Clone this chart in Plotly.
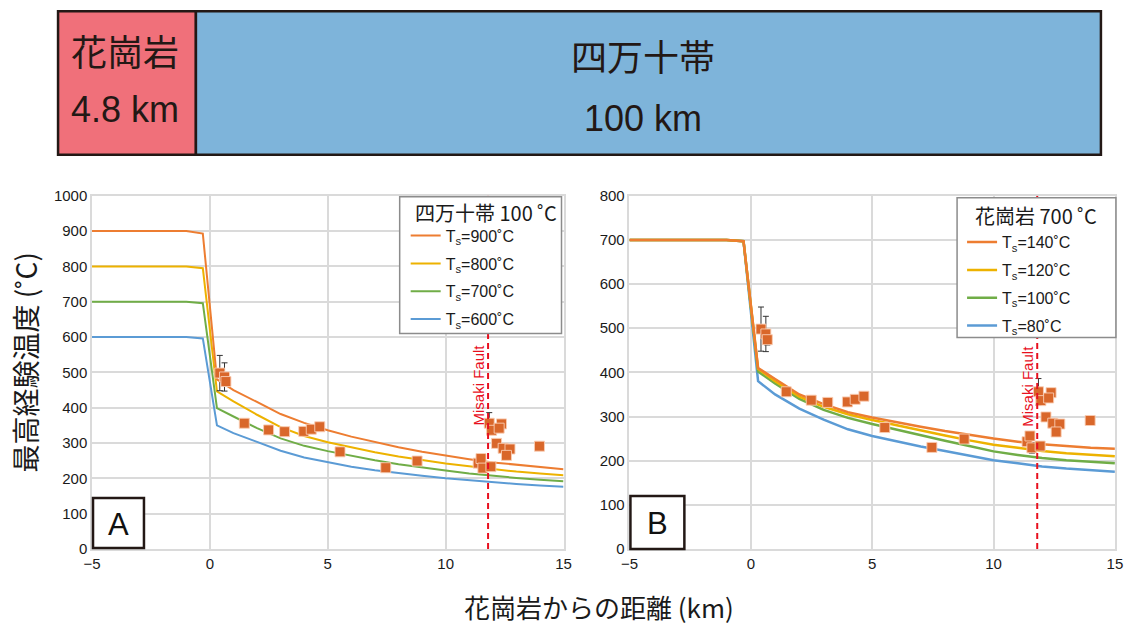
import plotly.graph_objects as go

W, H = 1136, 627
# calibration of the photographed page (body margin + capture scaling)
SX, SY, OFF = 1152 / 1136, 643 / 627, 8

# ---------------- data ----------------
dist = [-5, -1, -0.3, 0.3, 1, 2, 3, 4, 5, 6, 7, 8, 9, 10, 11, 12, 13, 14, 15]

# Panel A: 四万十帯 100 °C, granite surface temperature Ts
a_title = "四万十帯 100 ˚C"
a_labels = ["T<sub>s</sub>=900˚C", "T<sub>s</sub>=800˚C", "T<sub>s</sub>=700˚C", "T<sub>s</sub>=600˚C"]
a_900 = [900, 900, 893, 480, 450, 415, 382, 357, 336, 318, 302, 288, 275, 264, 254, 245, 238, 231, 226]
a_800 = [800, 800, 795, 446, 418, 380, 345, 320, 302, 287, 274, 262, 251, 242, 234, 226, 219, 214, 209]
a_700 = [700, 700, 696, 399, 375, 342, 313, 292, 277, 263, 251, 240, 230, 222, 214, 207, 201, 196, 192]
a_600 = [600, 600, 596, 350, 328, 303, 278, 259, 245, 233, 223, 214, 207, 200, 194, 188, 184, 180, 176]

# Panel B: 花崗岩 700 °C, Shimanto temperature Ts
b_title = "花崗岩 700 ˚C"
b_labels = ["T<sub>s</sub>=140˚C", "T<sub>s</sub>=120˚C", "T<sub>s</sub>=100˚C", "T<sub>s</sub>=80˚C"]
b_140 = [700, 700, 697, 410, 385, 350, 328, 310, 298, 287, 277, 267, 258, 250, 243, 237, 233, 229, 227]
b_120 = [700, 700, 697, 408, 380, 345, 322, 305, 292, 280, 268, 257, 246, 236, 229, 222, 217, 213, 210]
b_100 = [700, 700, 697, 402, 375, 340, 315, 297, 283, 270, 257, 245, 233, 221, 213, 206, 201, 197, 194]
b_80 = [700, 700, 697, 380, 350, 318, 293, 271, 256, 244, 232, 222, 211, 201, 194, 187, 182, 178, 175]

# measured maximum temperatures (same samples in both panels)
obs_x = [0.42, 0.62, 0.68, 1.46, 2.49, 3.17, 3.98, 4.30, 4.66, 5.52, 7.46, 8.79,
         11.38, 11.50, 11.58, 11.92, 11.85, 12.37, 11.95, 12.27, 12.16, 12.44, 12.73, 12.58, 13.98]
obs_y = [498, 487, 474, 356, 337, 332, 333, 339, 346, 275, 230, 249,
         243, 256, 229, 233, 356, 354, 336, 342, 299, 285, 283, 265, 291]
obs_err = [50, 40, 12, 0, 0, 0, 0, 0, 8, 0, 0, 0,
           0, 0, 12, 0, 30, 0, 0, 0, 8, 0, 0, 8, 0]

fault_x = 11.8
line_colors = ["#ED7D31", "#EDB200", "#70AD47", "#5B9BD5"]


def px(x):
    return (x * SX - OFF) / W


def py(y):
    return 1 - (y * SY - OFF) / H


fig = go.Figure()

TXT = "Liberation Sans, Arial, Helvetica, sans-serif"
CJK = "Noto Sans CJK JP, sans-serif"

a_series = [a_900, a_800, a_700, a_600]
for i in reversed(range(4)):
    fig.add_trace(go.Scatter(x=dist, y=a_series[i], mode="lines", name=a_labels[i],
                             line=dict(color=line_colors[i], width=2),
                             legend="legend", legendgroup="a%d" % i, legendrank=i + 1,
                             xaxis="x", yaxis="y", hoverinfo="skip"))
b_series = [b_140, b_120, b_100, b_80]
for i in reversed(range(4)):
    fig.add_trace(go.Scatter(x=dist, y=b_series[i], mode="lines", name=b_labels[i],
                             line=dict(color=line_colors[i], width=2.5),
                             legend="legend2", legendgroup="b%d" % i, legendrank=i + 1,
                             xaxis="x2", yaxis="y2", hoverinfo="skip"))

for xa, ya in (("x", "y"), ("x2", "y2")):
    fig.add_trace(go.Scatter(
        x=obs_x, y=obs_y, mode="markers", showlegend=False,
        marker=dict(symbol="square", size=10, color="#D9672A",
                    line=dict(color="rgba(250,205,180,0.9)", width=1)),
        error_y=dict(type="data", array=obs_err, color="#333333", thickness=1, width=3),
        xaxis=xa, yaxis=ya, hoverinfo="skip"))

grid = "#DADADA"
axis_common = dict(showgrid=True, gridcolor=grid, gridwidth=1.5, zeroline=False,
                   showline=True, linecolor=grid, linewidth=1.5, mirror=True,
                   ticks="", tickfont=dict(family=TXT, size=15, color="#1a1a1a"))

legend_common = dict(xanchor="left", yanchor="top", bgcolor="rgba(0,0,0,0)",
                     borderwidth=0, traceorder="grouped", tracegroupgap=4,
                     itemwidth=30, font=dict(family=TXT, size=16, color="#1a1a1a"))

fig.update_layout(
    width=W, height=H, margin=dict(l=0, r=0, t=0, b=0),
    paper_bgcolor="white", plot_bgcolor="white",
    xaxis=dict(domain=[px(91), px(563)], range=[-5, 15], dtick=5, anchor="y", **axis_common),
    yaxis=dict(domain=[py(549), py(195)], range=[0, 1000], dtick=100, anchor="x", **axis_common),
    xaxis2=dict(domain=[px(629), px(1115)], range=[-5, 15], dtick=5, anchor="y2", **axis_common),
    yaxis2=dict(domain=[py(549), py(195)], range=[0, 800], dtick=100, anchor="x2", **axis_common),
    legend=dict(x=px(405), y=py(218), **legend_common),
    legend2=dict(x=px(962), y=py(224.5), **legend_common),
    showlegend=True,
)

shapes = []
annos = []
# top bar
shapes.append(dict(type="rect", xref="paper", yref="paper", x0=px(57), x1=px(195), y0=py(154), y1=py(10),
                   fillcolor="#F0707A", line=dict(color="#231815", width=2.5), layer="above"))
shapes.append(dict(type="rect", xref="paper", yref="paper", x0=px(195), x1=px(1101), y0=py(154), y1=py(10),
                   fillcolor="#7EB4DA", line=dict(color="#231815", width=2.5), layer="above"))
annos += [
    dict(text="花崗岩", x=px(124), y=py(49), font=dict(family=CJK, size=36, color="#231815")),
    dict(text="4.8 km", x=px(124), y=py(109), font=dict(family=TXT, size=36, color="#231815")),
    dict(text="四万十帯", x=px(643), y=py(54), font=dict(family=CJK, size=36, color="#231815")),
    dict(text="100 km", x=px(643), y=py(118), font=dict(family=TXT, size=36, color="#231815")),
]

# fault lines
for xa, ya, ymax, ytxt in (("x", "y", 1000, 463), ("x2", "y2", 800, 368)):
    shapes.append(dict(type="line", xref=xa, yref=ya, x0=fault_x, x1=fault_x, y0=0, y1=ymax,
                       line=dict(color="#E8101E", width=2, dash="6px,4px"), layer="above"))
    annos.append(dict(text="Misaki Fault", x=fault_x, y=ytxt, xref=xa, yref=ya, textangle=-90,
                      xshift=-10, font=dict(family=TXT, size=15, color="#E8101E")))

# legend frames and titles
for x0, x1, y0, y1, tx, ty, t in ((399, 561, 196, 333, 412, 212, a_title),
                                   (957, 1116, 197, 337, 973, 215, b_title)):
    shapes.append(dict(type="rect", xref="paper", yref="paper", x0=px(x0), x1=px(x1), y0=py(y1), y1=py(y0),
                       fillcolor="white", line=dict(color="#8C8C8C", width=1.5), layer="above"))
    annos.append(dict(text=t, x=px(tx), y=py(ty), xanchor="left",
                      font=dict(family=CJK, size=20, color="#1a1a1a")))

# panel letter boxes
for x0, x1, y0, y1, t in ((92, 143, 498, 548, "A"), (630, 684, 496, 549, "B")):
    shapes.append(dict(type="rect", xref="paper", yref="paper", x0=px(x0), x1=px(x1), y0=py(y1), y1=py(y0),
                       fillcolor="white", line=dict(color="#231815", width=2.5), layer="above"))
    annos.append(dict(text=t, x=px((x0 + x1) / 2), y=py((y0 + y1) / 2 + 1),
                      font=dict(family=TXT, size=31, color="#111111")))

# axis titles
annos.append(dict(text="最高経験温度 (˚C)", x=px(24), y=py(362), textangle=-90,
                  font=dict(family=CJK, size=28, color="#1a1a1a")))
annos.append(dict(text="花崗岩からの距離 (km)", x=px(599), y=py(607),
                  font=dict(family=CJK, size=26, color="#1a1a1a")))

for a in annos:
    a.setdefault("xref", "paper")
    a.setdefault("yref", "paper")
    a["showarrow"] = False
    a.setdefault("xanchor", "center")
    a.setdefault("yanchor", "middle")

fig.update_layout(shapes=shapes, annotations=annos)
fig.write_html("out.html")
